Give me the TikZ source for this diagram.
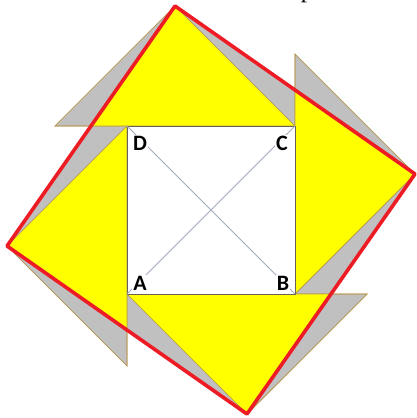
\documentclass[tikz,border=0pt]{standalone}
\usepackage{fontspec}
\setmainfont{Liberation Serif}
\newfontfamily\labelfont{Carlito}
\usetikzlibrary{positioning}
\definecolor{greyfill}{RGB}{192,192,192}
\definecolor{edge}{RGB}{184,152,84}
\definecolor{sun}{RGB}{255,255,0}
\definecolor{rim}{RGB}{237,28,36}
\definecolor{diag}{RGB}{160,172,190}
\definecolor{frame}{RGB}{105,96,86}

\begin{document}
\begin{tikzpicture}[x=1pt,y=-1pt,
  shadetri/.style={fill=greyfill,draw=edge,line width=0.7pt},
  rimline/.style={draw=rim,line width=3.6pt,line join=round},
  diagline/.style={draw=diag,line width=0.8pt},
  corner/.style={font=\labelfont\fontsize{22}{22}\selectfont\bfseries,fill=white,inner sep=1pt}]
  \useasboundingbox (0,0) rectangle (416,418);
  % square ABCD
  \coordinate (A) at (127,294);
  \coordinate (B) at (295,294);
  \coordinate (C) at (295,126);
  \coordinate (D) at (127,126);
  % corners of the red square
  \coordinate (P1) at (175,6);
  \coordinate (P2) at (415,174);
  \coordinate (P3) at (247,414);
  \coordinate (P4) at (7,246);
  % far ends of the grey triangles
  \coordinate (G1) at (55,126);
  \coordinate (G2) at (295,54);
  \coordinate (G3) at (367,294);
  \coordinate (G4) at (127,366);

  \fill[greyfill] (P1) -- (P2) -- (P3) -- (P4) -- cycle;
  \foreach \g/\s/\p in {G1/C/P1,G2/B/P2,G3/A/P3,G4/D/P4}{
    \filldraw[shadetri] (\g) -- (\s) -- (\p) -- cycle;
  }
  \begin{scope}
    \clip (P1) -- (P2) -- (P3) -- (P4) -- cycle;
    \foreach \g/\s/\p in {G1/C/P1,G2/B/P2,G3/A/P3,G4/D/P4}{
      \fill[sun] (\g) -- (\s) -- (\p) -- cycle;
    }
  \end{scope}
  \foreach \g/\s/\p in {G1/C/P1,G2/B/P2,G3/A/P3,G4/D/P4}{
    \draw[draw=edge,line width=0.7pt] (\g) -- (\s) -- (\p) -- cycle;
  }

  \filldraw[fill=white,draw=frame,line width=0.9pt] (A) rectangle (C);
  \draw[diagline] (A) -- (C);
  \draw[diagline] (B) -- (D);
  \node[corner] (lblD) at (140,143) {D};
  \node[corner] (lblC) at (282,143) {C};
  \node[corner] (lblA) at (140,283) {A};
  \node[corner] (lblB) at (283,283) {B};

  \draw[rimline] (P1) -- (P2) -- (P3) -- (P4) -- cycle;
  \node[anchor=base,font=\fontsize{25}{25}\selectfont,inner sep=0pt] (cut) at (307,-2.5) {p};
\end{tikzpicture}
\end{document}
